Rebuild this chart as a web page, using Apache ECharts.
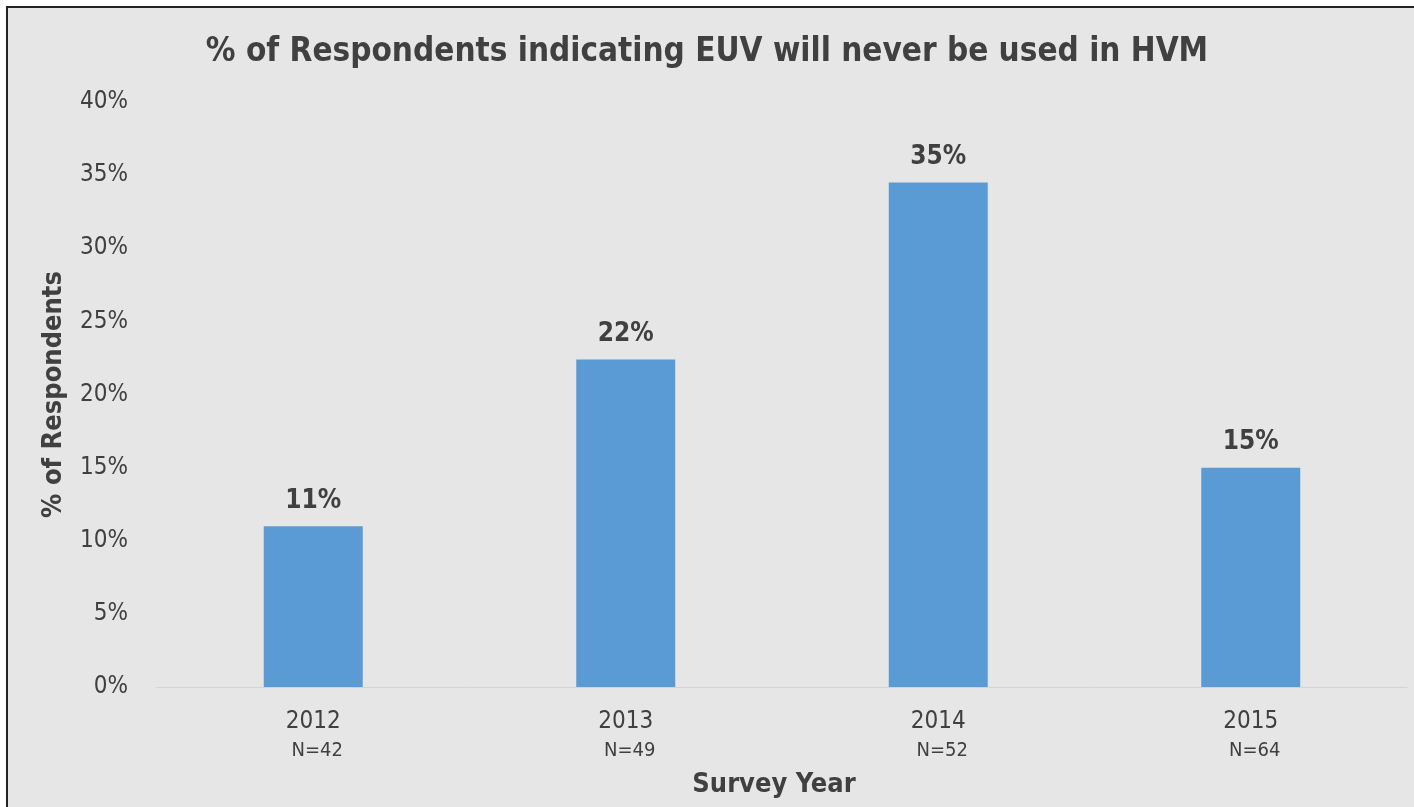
<!DOCTYPE html>
<html><head><meta charset="utf-8">
<script src="https://cdn.jsdelivr.net/npm/echarts@6/dist/echarts.min.js"></script>
<style>
html,body{margin:0;padding:0;background:#fff;}
#frame{position:absolute;left:6px;top:6px;width:1420px;height:820px;border:2px solid #222;background:#e7e6e6;box-sizing:border-box;}
#c{position:absolute;left:0;top:0;width:1414px;height:807px;}
</style></head>
<body>
<div id="frame"></div>
<div id="c"></div>
<script>
const years = ['2012','2013','2014','2015'];
const sampleSizes = ['N=42','N=49','N=52','N=64'];
const values = [11.0, 22.4, 34.5, 15.0];
const yTicks = [0,5,10,15,20,25,30,35,40];

const FONT = '"Liberation Sans Narrow","Arial Narrow","DejaVu Sans Condensed","Liberation Sans",sans-serif';
const chart = echarts.init(document.getElementById('c'), null, {renderer:'canvas'});
chart.setOption({
  backgroundColor: 'transparent',
  textStyle: {fontFamily: FONT},
  title: {
    text: '% of Respondents indicating EUV will never be used in HVM',
    left: 'center', top: 31, padding: [5, 5, 5, 25],
    textStyle: {fontFamily: FONT, fontSize: 33, fontWeight: 'bold', color: '#404040'}
  },
  grid: {left: 157, right: 7, top: 102, bottom: 120, containLabel: false},
  xAxis: {
    type: 'category',
    data: years.map((y,i)=>y+'\n'+sampleSizes[i]),
    name: 'Survey Year', nameLocation: 'middle', nameGap: 84,
    nameTextStyle: {fontFamily: FONT, fontSize: 27, fontWeight: 'bold', color: '#404040', padding:[0,16,0,0]},
    axisLine: {lineStyle: {color: '#d4d4d4', width: 1}},
    axisTick: {show: false},
    axisLabel: {
      margin: 20,
      formatter: function(v){ const p=v.split('\n'); return '{a|'+p[0]+'}\n{b|'+p[1]+'}'; },
      rich: {
        a: {fontFamily: FONT, fontSize: 24, color: '#404040', lineHeight: 30},
        b: {fontFamily: FONT, fontSize: 20, color: '#404040', lineHeight: 28, padding:[0,0,0,8]}
      }
    }
  },
  yAxis: {
    type: 'value', min: 0, max: 40, interval: 5,
    name: '% of Respondents', nameLocation: 'middle', nameGap: 90,
    nameTextStyle: {fontFamily: FONT, fontSize: 27, fontWeight: 'bold', color: '#404040'},
    axisLine: {show: false}, axisTick: {show: false},
    splitLine: {show: false},
    axisLabel: {
      margin: 29,
      fontFamily: FONT, fontSize: 24, color: '#404040',
      formatter: v => yTicks.includes(v) ? v + '%' : ''
    }
  },
  series: [{
    type: 'bar',
    data: values,
    barWidth: 99,
    itemStyle: {color: '#5b9bd5'},
    label: {
      show: true, position: 'top', distance: 12,
      formatter: p => Math.round(p.value) + '%',
      fontFamily: FONT, fontSize: 26, fontWeight: 'bold', color: '#404040'
    }
  }]
});
</script>
</body></html>
